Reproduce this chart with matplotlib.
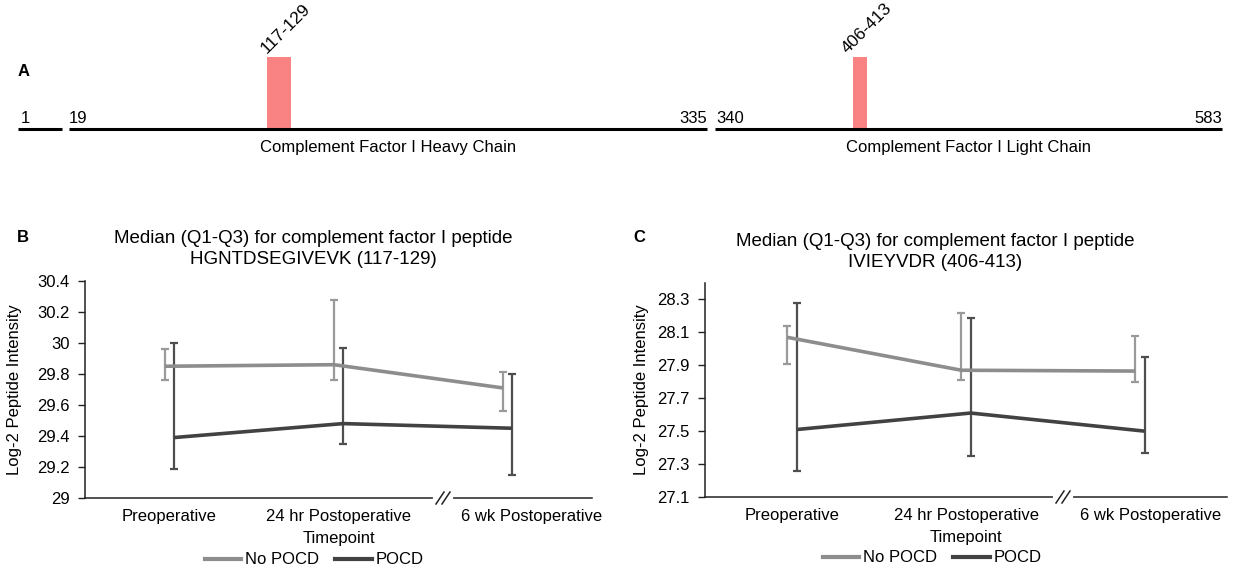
import matplotlib
matplotlib.use("Agg")
import matplotlib.pyplot as plt
import matplotlib.transforms as mt
from matplotlib.lines import Line2D

plt.rcParams['font.family'] = ['Liberation Sans', 'DejaVu Sans']

# ---------------- data ----------------
# Panel A: protein map (residue numbers)
signal_segment = (1, 18)
heavy_chain = (19, 335)
light_chain = (340, 583)
heavy_peptide = (117, 129)
light_peptide = (406, 413)
heavy_name = "Complement Factor I Heavy Chain"
light_name = "Complement Factor I Light Chain"

timepoints = ["Preoperative", "24 hr Postoperative", "6 wk Postoperative"]
series_names = ["No POCD", "POCD"]

# Panel B: HGNTDSEGIVEVK (117-129)
b_nopocd_med = [29.85, 29.86, 29.71]
b_nopocd_q1 = [29.76, 29.76, 29.56]
b_nopocd_q3 = [29.96, 30.28, 29.81]
b_pocd_med = [29.39, 29.48, 29.45]
b_pocd_q1 = [29.19, 29.35, 29.15]
b_pocd_q3 = [30.00, 29.97, 29.80]
b_ticks = [29.0, 29.2, 29.4, 29.6, 29.8, 30.0, 30.2, 30.4]
b_ticklabels = ["29", "29.2", "29.4", "29.6", "29.8", "30", "30.2", "30.4"]

# Panel C: IVIEYVDR (406-413)
c_nopocd_med = [28.07, 27.87, 27.865]
c_nopocd_q1 = [27.91, 27.81, 27.80]
c_nopocd_q3 = [28.14, 28.22, 28.08]
c_pocd_med = [27.51, 27.61, 27.50]
c_pocd_q1 = [27.26, 27.35, 27.37]
c_pocd_q3 = [28.28, 28.19, 27.95]
c_ticks = [27.1, 27.3, 27.5, 27.7, 27.9, 28.1, 28.3]
c_ticklabels = ["27.1", "27.3", "27.5", "27.7", "27.9", "28.1", "28.3"]

# ---------------- style ----------------
W, H = 1238, 573
GRAY = "#8d8d8d"
GRAY_ERR = "#9a9a9a"
DARK = "#424242"
DARK_ERR = "#4e4e4e"
PINK = "#f98383"
FS = 12

fig = plt.figure(figsize=(W / 100, H / 100), dpi=100)


def rect(x0, x1, ytop, ybot):
    return [x0 / W, 1 - ybot / H, (x1 - x0) / W, (ybot - ytop) / H]


# ---------------- Panel A ----------------
def chain_axes(x0, x1, lim):
    ax = fig.add_axes(rect(x0, x1, 57, 129))
    ax.set_xlim(*lim)
    ax.set_ylim(0, 1)
    ax.axis('off')
    ax.plot(lim, [0, 0], color="black", lw=2.2, solid_capstyle='butt', clip_on=False)
    return ax


ax_s = chain_axes(18, 62, signal_segment)
ax_s.annotate(str(signal_segment[0]), (signal_segment[0], 0), xytext=(2, 2.5),
              textcoords='offset points', ha='left', va='bottom', fontsize=FS)

ax_h = chain_axes(69, 707, heavy_chain)
ax_h.annotate(str(heavy_chain[0]), (heavy_chain[0], 0), xytext=(0, 2.5),
              textcoords='offset points', ha='left', va='bottom', fontsize=FS)
ax_h.annotate(str(heavy_chain[1]), (heavy_chain[1], 0), xytext=(0, 2.5),
              textcoords='offset points', ha='right', va='bottom', fontsize=FS)
ax_h.annotate(heavy_name, ((heavy_chain[0] + heavy_chain[1]) / 2, 0), xytext=(0, -13),
              textcoords='offset points', ha='center', va='center', fontsize=FS)
ax_h.bar(heavy_peptide[0], 1, width=heavy_peptide[1] - heavy_peptide[0], align='edge',
         color=PINK, zorder=1)
ax_h.annotate(f"{heavy_peptide[0]}-{heavy_peptide[1]}", (heavy_peptide[0], 1), xytext=(1, 0.5),
              textcoords='offset points', ha='left', va='bottom', rotation=45,
              rotation_mode='anchor', fontsize=12.5, annotation_clip=False)

ax_l = chain_axes(715, 1222, light_chain)
ax_l.annotate(str(light_chain[0]), (light_chain[0], 0), xytext=(1, 2.5),
              textcoords='offset points', ha='left', va='bottom', fontsize=FS)
ax_l.annotate(str(light_chain[1]), (light_chain[1], 0), xytext=(0, 2.5),
              textcoords='offset points', ha='right', va='bottom', fontsize=FS)
ax_l.annotate(light_name, ((light_chain[0] + light_chain[1]) / 2, 0), xytext=(0, -13),
              textcoords='offset points', ha='center', va='center', fontsize=FS)
ax_l.bar(light_peptide[0], 1, width=light_peptide[1] - light_peptide[0], align='edge',
         color=PINK, zorder=1)
ax_l.annotate(f"{light_peptide[0]}-{light_peptide[1]}", (light_peptide[0], 1), xytext=(-2, 0.5),
              textcoords='offset points', ha='left', va='bottom', rotation=45,
              rotation_mode='anchor', fontsize=12.5, annotation_clip=False)

fig.text(18 / W, 1 - 72 / H, "A", fontsize=FS, fontweight='bold', ha='left', va='center')


# ---------------- Panels B & C ----------------
def line_panel(r, ylim, ticks, ticklabels, nm, nq1, nq3, pm, pq1, pq3,
               title, title_x, title_y, letter, letter_xy, ylab_x, brk_px, last_shift,
               legend_xy):
    ax = fig.add_axes(r)
    x = list(range(len(timepoints)))
    dodge = 0.027
    xn = [v - dodge for v in x]
    xp = [v + dodge for v in x]
    ax.plot(xn, nm, color=GRAY, lw=2.6, zorder=3, solid_capstyle='butt')
    ax.errorbar(xn, nm, yerr=[[m - q for m, q in zip(nm, nq1)], [q - m for m, q in zip(nm, nq3)]],
                fmt='none', ecolor=GRAY_ERR, elinewidth=1.6, capsize=2.8, capthick=1.6, zorder=2)
    ax.plot(xp, pm, color=DARK, lw=2.6, zorder=3, solid_capstyle='butt')
    ax.errorbar(xp, pm, yerr=[[m - q for m, q in zip(pm, pq1)], [q - m for m, q in zip(pm, pq3)]],
                fmt='none', ecolor=DARK_ERR, elinewidth=1.6, capsize=2.8, capthick=1.6, zorder=2)
    ax.set_xlim(-0.5, len(timepoints) - 0.5)
    ax.set_ylim(*ylim)
    ax.set_yticks(ticks)
    ax.set_yticklabels(ticklabels)
    ax.set_xticks(x)
    ax.set_xticklabels(timepoints)
    ax.tick_params(axis='y', length=5, width=1, pad=6, labelsize=FS, color='#222222')
    ax.tick_params(axis='x', length=0, pad=8, labelsize=FS)
    ax.spines['top'].set_visible(False)
    ax.spines['right'].set_visible(False)
    for s in ('left', 'bottom'):
        ax.spines[s].set_linewidth(1.1)
        ax.spines[s].set_color('#222222')
    # shift last tick label to the right like the original
    lbl = ax.get_xticklabels()[-1]
    lbl.set_transform(lbl.get_transform() + mt.ScaledTranslation(last_shift / 100, 0, fig.dpi_scale_trans))
    ax.set_xlabel("Timepoint", fontsize=FS, labelpad=5)
    ax.set_ylabel("Log-2 Peptide Intensity", fontsize=FS)
    ax.yaxis.set_label_coords(ylab_x, 0.5)
    # axis break "//"
    bx = r[0] * W + brk_px
    by = r[1] * H
    px = lambda v: v / W
    py = lambda v: v / H
    fig.add_artist(Line2D([px(bx - 8), px(bx + 8)], [py(by), py(by)], color='white', lw=3,
                          transform=fig.transFigure, zorder=10))
    for dx in (-3, 3):
        fig.add_artist(Line2D([px(bx + dx - 4), px(bx + dx + 4)], [py(by - 6), py(by + 6)],
                              color='#222222', lw=1.1, transform=fig.transFigure, zorder=11))
    fig.text(title_x / W, 1 - title_y / H, title, ha='center', va='center', fontsize=13.5,
             linespacing=1.3)
    fig.text(letter_xy[0] / W, 1 - letter_xy[1] / H, letter, ha='left', va='center',
             fontsize=FS, fontweight='bold')
    handles = [Line2D([], [], color=GRAY, lw=3), Line2D([], [], color=DARK, lw=3)]
    fig.legend(handles, series_names, loc='center', ncol=2, frameon=False, fontsize=FS,
               bbox_to_anchor=(legend_xy[0] / W, 1 - legend_xy[1] / H),
               handlelength=2.2, handletextpad=0.2, columnspacing=1.0, borderpad=0)
    return ax


line_panel(rect(85, 592, 281, 498), (29.0, 30.4), b_ticks, b_ticklabels,
           b_nopocd_med, b_nopocd_q1, b_nopocd_q3, b_pocd_med, b_pocd_q1, b_pocd_q3,
           "Median (Q1-Q3) for complement factor I peptide\nHGNTDSEGIVEVK (117-129)",
           313, 249, "B", (17, 238), -0.124, 358, 24, (314, 560))

line_panel(rect(705, 1227, 283, 497), (27.1, 28.4), c_ticks, c_ticklabels,
           c_nopocd_med, c_nopocd_q1, c_nopocd_q3, c_pocd_med, c_pocd_q1, c_pocd_q3,
           "Median (Q1-Q3) for complement factor I peptide\nIVIEYVDR (406-413)",
           935, 252, "C", (633, 238), -0.107, 358, 11, (932, 558))

fig.savefig("out.png", dpi=100)
